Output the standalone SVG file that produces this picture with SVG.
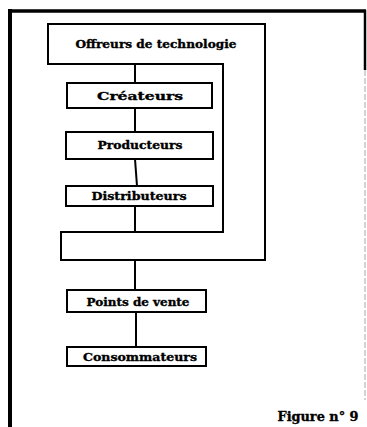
<svg xmlns="http://www.w3.org/2000/svg" width="367" height="427" viewBox="0 0 367 427">
<style>
.box{fill:#fff;stroke:#000;stroke-width:2}
.t{font-family:"DejaVu Serif","Liberation Serif",serif;font-weight:bold;font-size:11.5px;fill:#000;stroke:#000;stroke-width:0.35;text-anchor:middle}
.c{stroke:#000;stroke-width:2;fill:none}
</style>
<rect width="367" height="427" fill="#fff"/>
<g id="frame">
<line x1="8" y1="11" x2="366" y2="11" stroke="#000" stroke-width="3.5"/>
<line x1="10" y1="9" x2="10" y2="427" stroke="#000" stroke-width="4"/>
<line x1="365" y1="10" x2="365" y2="70" stroke="#000" stroke-width="2.5"/>
<line x1="365" y1="70" x2="365" y2="400" stroke="#aaa" stroke-width="1" stroke-dasharray="6 2"/>
</g>
<g id="offreurs">
<path class="box" d="M48,24 H265 V260 H61 V232 H223 V64 H48 Z"/>
<text class="t" x="156" y="48" textLength="161" lengthAdjust="spacingAndGlyphs">Offreurs de technologie</text>
</g>
<g id="connectors">
<line class="c" x1="135" y1="64" x2="135" y2="83"/>
<line class="c" x1="135" y1="108" x2="135" y2="132"/>
<line class="c" x1="135" y1="159" x2="137" y2="186"/>
<line class="c" x1="135" y1="206" x2="135" y2="232"/>
<line class="c" x1="135" y1="260" x2="135" y2="290"/>
<line class="c" x1="136" y1="312" x2="136" y2="347"/>
</g>
<g id="createurs">
<rect class="box" x="67" y="83" width="145" height="25"/>
<text class="t" x="140" y="100" textLength="86" lengthAdjust="spacingAndGlyphs">Créateurs</text>
</g>
<g id="producteurs">
<rect class="box" x="66" y="132" width="147" height="27"/>
<text class="t" x="140" y="149" textLength="85" lengthAdjust="spacingAndGlyphs">Producteurs</text>
</g>
<g id="distributeurs">
<rect class="box" x="66" y="186" width="147" height="20"/>
<text class="t" x="139" y="200" textLength="95" lengthAdjust="spacingAndGlyphs">Distributeurs</text>
</g>
<g id="points-de-vente">
<rect class="box" x="67" y="290" width="139" height="22"/>
<text class="t" x="138" y="306" textLength="103" lengthAdjust="spacingAndGlyphs">Points de vente</text>
</g>
<g id="consommateurs">
<rect class="box" x="67" y="347" width="139" height="19"/>
<text class="t" x="140" y="361" textLength="114" lengthAdjust="spacingAndGlyphs">Consommateurs</text>
</g>
<g id="caption">
<text class="t" x="318" y="421" style="font-size:12.5px" textLength="81" lengthAdjust="spacingAndGlyphs">Figure n° 9</text>
</g>
</svg>
